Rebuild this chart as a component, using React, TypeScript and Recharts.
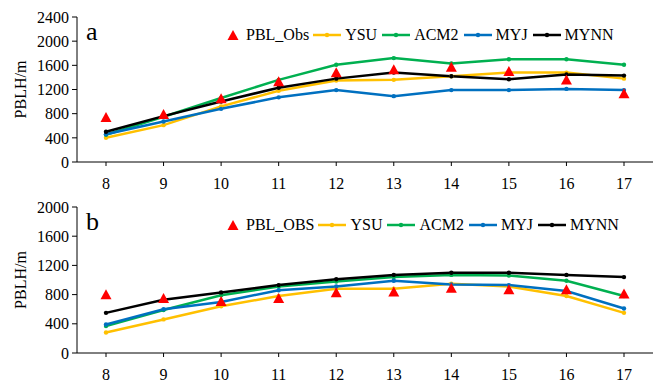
import React from 'react';
import {
    LineChart,
    Line,
    XAxis,
    YAxis,
    Legend,
} from 'recharts';

const hours = [8, 9, 10, 11, 12, 13, 14, 15, 16, 17];

// panel a
const aObs = [730, 780, 1040, 1320, 1470, 1520, 1560, 1490, 1350, 1120];
const aYSU = [400, 610, 920, 1180, 1350, 1360, 1420, 1480, 1480, 1380];
const aACM2 = [450, 750, 1060, 1360, 1610, 1720, 1630, 1700, 1700, 1610];
const aMYJ = [460, 670, 880, 1070, 1190, 1090, 1190, 1190, 1210, 1190];
const aMYNN = [500, 760, 1000, 1230, 1380, 1480, 1420, 1370, 1450, 1430];
const aTicks = [0, 400, 800, 1200, 1600, 2000, 2400];

// panel b
const bObs = [790, 740, 700, 740, 820, 830, 880, 860, 860, 800];
const bYSU = [280, 460, 640, 780, 880, 880, 950, 910, 780, 550];
const bACM2 = [370, 590, 790, 910, 980, 1040, 1070, 1060, 990, 780];
const bMYJ = [390, 600, 700, 860, 910, 990, 940, 930, 850, 610];
const bMYNN = [550, 730, 830, 930, 1010, 1070, 1100, 1100, 1070, 1040];
const bTicks = [0, 400, 800, 1200, 1600, 2000];

const models = [
    { key: 'YSU', color: '#FFC000' },
    { key: 'ACM2', color: '#00B050' },
    { key: 'MYJ', color: '#0070C0' },
    { key: 'MYNN', color: '#000000' },
];

const FONT = '"Times New Roman", "Liberation Serif", serif';

const buildRows = (obs: number[], ysu: number[], acm: number[], myj: number[], mynn: number[]) =>
    hours.map((h, i) => ({
        hour: h,
        obs: obs[i],
        YSU: ysu[i],
        ACM2: acm[i],
        MYJ: myj[i],
        MYNN: mynn[i],
    }));

const Triangle = (props: any) => {
    const { cx, cy } = props;
    if (cx == null || cy == null) return null;
    return (
        <path
            d={`M${cx},${cy - 6} L${cx + 5.5},${cy + 4} L${cx - 5.5},${cy + 4} Z`}
            fill="#FF0000"
        />
    );
};

const LegendBox = ({ obsName }: { obsName: string }) => (
    <div style={{ display: 'flex', alignItems: 'center', fontFamily: FONT, fontSize: 16, whiteSpace: 'nowrap' }}>
        <svg width={14} height={12} style={{ marginRight: 6 }}>
            <path d="M7,1 L12.5,11 L1.5,11 Z" fill="#FF0000" />
        </svg>
        <span style={{ marginRight: 4 }}>{obsName}</span>
        {models.map((m) => (
            <React.Fragment key={m.key}>
                <svg width={28} height={10} style={{ marginRight: 4 }}>
                    <line x1={0} y1={5} x2={28} y2={5} stroke={m.color} strokeWidth={2.5} />
                    <circle cx={14} cy={5} r={2.2} fill={m.color} />
                </svg>
                <span style={{ marginRight: 5 }}>{m.key}</span>
            </React.Fragment>
        ))}
    </div>
);

interface PanelProps {
    rows: any[];
    label: string;
    obsName: string;
    ticks: number[];
    height: number;
    xHeight: number;
}

// extra room below the x axis so tick labels are not clipped
const EXTRA = 14;

const Panel = ({ rows, label, obsName, ticks, height, xHeight }: PanelProps) => {
    const tickStyle = { fontFamily: FONT, fontSize: 16, fill: '#000' };
    return (
        <div style={{ position: 'relative', width: 654, height }}>
            <LineChart
                width={654}
                height={height + EXTRA}
                data={rows}
                margin={{ top: 17, right: 1, left: 0, bottom: EXTRA }}
            >
                <XAxis
                    dataKey="hour"
                    height={xHeight}
                    tick={tickStyle}
                    tickSize={4}
                    tickMargin={12}
                    stroke="#000"
                    interval={0}
                    padding={{ left: 29, right: 29 }}
                />
                <XAxis
                    xAxisId="top"
                    dataKey="hour"
                    orientation="top"
                    height={0}
                    tick={false}
                    tickLine={false}
                    stroke="#000"
                    padding={{ left: 29, right: 29 }}
                />
                <YAxis
                    width={77}
                    domain={[0, ticks[ticks.length - 1]]}
                    ticks={ticks}
                    interval={0}
                    tick={tickStyle}
                    tickSize={5}
                    tickMargin={3}
                    stroke="#000"
                    label={{
                        value: 'PBLH/m',
                        angle: -90,
                        position: 'insideLeft',
                        offset: 20,
                        style: { fontFamily: FONT, fontSize: 16, fill: '#000', textAnchor: 'middle' },
                    }}
                />
                <YAxis yAxisId="right" orientation="right" width={0} tick={false} tickLine={false} stroke="#000" />
                <Legend
                    layout="horizontal"
                    verticalAlign="middle"
                    align="center"
                    wrapperStyle={{ top: 26, left: 226, width: 'auto' }}
                    content={() => <LegendBox obsName={obsName} />}
                />
                {models.map((m) => (
                    <Line
                        key={m.key}
                        dataKey={m.key}
                        stroke={m.color}
                        strokeWidth={2.5}
                        dot={{ r: 2.2, fill: m.color, stroke: m.color, strokeWidth: 0 }}
                        activeDot={false}
                        isAnimationActive={false}
                    />
                ))}
                <Line
                    dataKey="obs"
                    stroke="none"
                    dot={<Triangle />}
                    activeDot={false}
                    isAnimationActive={false}
                    legendType="none"
                />
            </LineChart>
            <div style={{ position: 'absolute', left: 86, top: 17, fontFamily: FONT, fontSize: 26 }}>{label}</div>
        </div>
    );
};

export default function App() {
    return (
        <div style={{ position: 'absolute', left: 0, top: 0 }}>
            <Panel rows={buildRows(aObs, aYSU, aACM2, aMYJ, aMYNN)} label="a" obsName="PBL_Obs" ticks={aTicks} height={190} xHeight={28} />
            <Panel rows={buildRows(bObs, bYSU, bACM2, bMYJ, bMYNN)} label="b" obsName="PBL_OBS" ticks={bTicks} height={193} xHeight={30} />
        </div>
    );
}
